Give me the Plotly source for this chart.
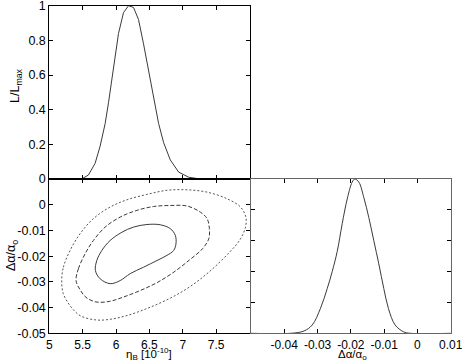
import plotly.graph_objects as go

# ---- 1D likelihood of eta_B (top-left panel) ----
eta_x = [5.0, 5.486, 5.586, 5.686, 5.762, 5.837, 5.887, 5.937, 5.987, 6.037, 6.112, 6.187,
         6.262, 6.337, 6.412, 6.488, 6.563, 6.638, 6.713, 6.813, 6.938, 7.089, 7.264, 8.0]
eta_L = [0.0, 0.0, 0.023, 0.09, 0.19, 0.32, 0.44, 0.57, 0.71, 0.84, 0.96, 1.0,
         0.99, 0.92, 0.78, 0.63, 0.475, 0.32, 0.21, 0.11, 0.04, 0.01, 0.0, 0.0]

# ---- 1D likelihood of delta alpha / alpha (bottom-right panel) ----
da_x = [-0.05, -0.038, -0.0341, -0.0316, -0.0291, -0.0271, -0.0256, -0.0241, -0.0226, -0.0211,
        -0.0196, -0.0188, -0.0176, -0.0161, -0.0146, -0.0131, -0.0116, -0.0101, -0.0087,
        -0.0067, -0.0042, -0.0022, 0.01]
da_L = [0.0, 0.0, 0.015, 0.054, 0.163, 0.29, 0.40, 0.53, 0.71, 0.87,
        0.98, 1.0, 0.98, 0.88, 0.75, 0.60, 0.45, 0.29, 0.16,
        0.054, 0.01, 0.0, 0.0]

# ---- 2D confidence contours (bottom-left panel) ----
inner_eta = [5.912, 5.762, 5.691, 5.712, 5.787, 5.912, 6.088, 6.262, 6.463, 6.663, 6.813, 6.888,
             6.898, 6.863, 6.763, 6.613, 6.412, 6.212, 6.062, 5.912]
inner_da = [-0.0307, -0.0288, -0.0256, -0.0217, -0.0178, -0.0139, -0.0107, -0.0087, -0.0077,
            -0.0078, -0.0093, -0.0119, -0.0152, -0.0178, -0.0197, -0.0217, -0.0243, -0.0268,
            -0.0295, -0.0307]

mid_eta = [5.401, 5.436, 5.536, 5.661, 5.837, 6.062, 6.313, 6.562, 6.813, 7.064, 7.264, 7.364,
           7.399, 7.39, 7.30, 7.10, 6.85, 6.60, 6.35, 6.10, 5.90, 5.70, 5.55, 5.46, 5.401]
mid_da = [-0.0295, -0.0249, -0.0191, -0.0139, -0.0087, -0.0048, -0.0022, -0.0007, -0.0003,
          -0.0005, -0.0029, -0.0054, -0.0093, -0.0132, -0.0170, -0.0215, -0.0265, -0.0305,
          -0.0335, -0.0360, -0.0376, -0.0378, -0.0360, -0.0330, -0.0295]

outer_eta = [5.186, 5.211, 5.311, 5.461, 5.661, 5.912, 6.162, 6.463, 6.763, 7.064, 7.364, 7.665,
             7.865, 7.945, 7.94, 7.86, 7.70, 7.40, 7.10, 6.80, 6.45, 6.15, 5.90, 5.70, 5.46,
             5.31, 5.21, 5.186]
outer_da = [-0.0295, -0.0243, -0.0178, -0.0113, -0.0054, -0.0009, 0.0019, 0.0040, 0.0056,
            0.0058, 0.0049, 0.0023, -0.0009, -0.0048, -0.0087, -0.0135, -0.0185, -0.0260,
            -0.0320, -0.0365, -0.0405, -0.0432, -0.0446, -0.0448, -0.0431, -0.0392, -0.0346,
            -0.0295]

# ---- tick labels ----
eta_ticks = [5, 5.5, 6, 6.5, 7, 7.5, 8]
eta_ticktext = ["5", "5.5", "6", "6.5", "7", "7.5", ""]
L_ticks = [0, 0.2, 0.4, 0.6, 0.8, 1]
L_ticktext = ["0", "0.2", "0.4", "0.6", "0.8", "1"]
da_ticks = [-0.05, -0.04, -0.03, -0.02, -0.01, 0, 0.01]
da_ticktext_y = ["-0.05", "-0.04", "-0.03", "-0.02", "-0.01", "0", ""]
da_ticktext_x = ["", "-0.04", "-0.03", "-0.02", "-0.01", "0", "0.01"]

W, H = 462, 363
line_col = "#3a3a3a"

fig = go.Figure()
fig.add_trace(go.Scatter(x=eta_x, y=eta_L, mode="lines", xaxis="x", yaxis="y",
                         line=dict(color=line_col, width=1), showlegend=False))
fig.add_trace(go.Scatter(x=inner_eta, y=inner_da, mode="lines", xaxis="x2", yaxis="y2",
                         line=dict(color=line_col, width=1, shape="spline"), showlegend=False))
fig.add_trace(go.Scatter(x=mid_eta, y=mid_da, mode="lines", xaxis="x2", yaxis="y2",
                         line=dict(color=line_col, width=1, dash="4px,2px", shape="spline"),
                         showlegend=False))
fig.add_trace(go.Scatter(x=outer_eta, y=outer_da, mode="lines", xaxis="x2", yaxis="y2",
                         line=dict(color="#555555", width=1, dash="2px,2px", shape="spline"),
                         showlegend=False))
fig.add_trace(go.Scatter(x=da_x, y=da_L, mode="lines", xaxis="x3", yaxis="y3",
                         line=dict(color=line_col, width=1, shape="spline"), showlegend=False))

xl, xr = 49.3 / W, 249.5 / W
x3l, x3r = 251 / W, 450.7 / W
ymid = (H - 179) / H
ytop = (H - 5.7) / H
ybot = (H - 333.3) / H

font = dict(family="Liberation Sans, Arial, sans-serif", size=12.5, color="black")
xtick_font = dict(family="Liberation Sans, Arial, sans-serif", size=12, color="black")
title_font = dict(family="Liberation Sans, Arial, sans-serif", size=11.5, color="black")
ax_common = dict(showgrid=False, zeroline=False, showline=True, linecolor="black", linewidth=1,
                 mirror="ticks", ticks="inside", ticklen=4, tickcolor="black", tickwidth=1,
                 tickfont=font, tickmode="array", ticklabeloverflow="allow")

fig.update_layout(
    width=W, height=H, margin=dict(l=0, r=0, t=0, b=0, autoexpand=False),
    paper_bgcolor="white", plot_bgcolor="white", font=font,
    xaxis=dict(ax_common, domain=[xl, xr], range=[5, 8], tickvals=eta_ticks,
               showticklabels=False, anchor="y"),
    yaxis=dict(ax_common, domain=[ymid, ytop], range=[0, 1], tickvals=L_ticks,
               ticktext=L_ticktext, anchor="x"),
    xaxis2=dict(ax_common, domain=[xl, xr], range=[5, 8], tickvals=eta_ticks,
                ticktext=eta_ticktext, anchor="y2", tickfont=xtick_font),
    yaxis2=dict(ax_common, domain=[ybot, ymid], range=[-0.05, 0.01], tickvals=da_ticks,
                ticktext=da_ticktext_y, anchor="x2"),
    xaxis3=dict(ax_common, domain=[x3l, x3r], range=[-0.05, 0.01], tickvals=da_ticks,
                ticktext=da_ticktext_x, anchor="y3", linecolor="#666666",
                tickfont=xtick_font),
    yaxis3=dict(ax_common, domain=[ybot, ymid], range=[0, 1], tickvals=L_ticks,
                showticklabels=False, anchor="x3", linecolor="#666666"),
)

fig.add_annotation(x=16 / W, y=(H - 86) / H, xref="paper", yref="paper",
                   text="L/L<sub>max</sub>", textangle=-90, showarrow=False, font=font,
                   xanchor="center", yanchor="middle")
fig.add_annotation(x=12 / W, y=(H - 256) / H, xref="paper", yref="paper",
                   text="Δα/α<sub>o</sub>", textangle=-90, showarrow=False, font=font,
                   xanchor="center", yanchor="middle")
fig.add_annotation(x=149 / W, y=0, xref="paper", yref="paper",
                   text="η<sub>B</sub> [10<sup>-10</sup>]", showarrow=False, font=title_font,
                   xanchor="center", yanchor="bottom", borderpad=0)
fig.add_annotation(x=352 / W, y=0, xref="paper", yref="paper",
                   text="Δα/α<sub>o</sub>", showarrow=False, font=title_font,
                   xanchor="center", yanchor="bottom", borderpad=0)

fig.write_html("out.html", config={"displayModeBar": False},
               post_script="document.body.style.margin='0';document.body.style.overflow='hidden';")
